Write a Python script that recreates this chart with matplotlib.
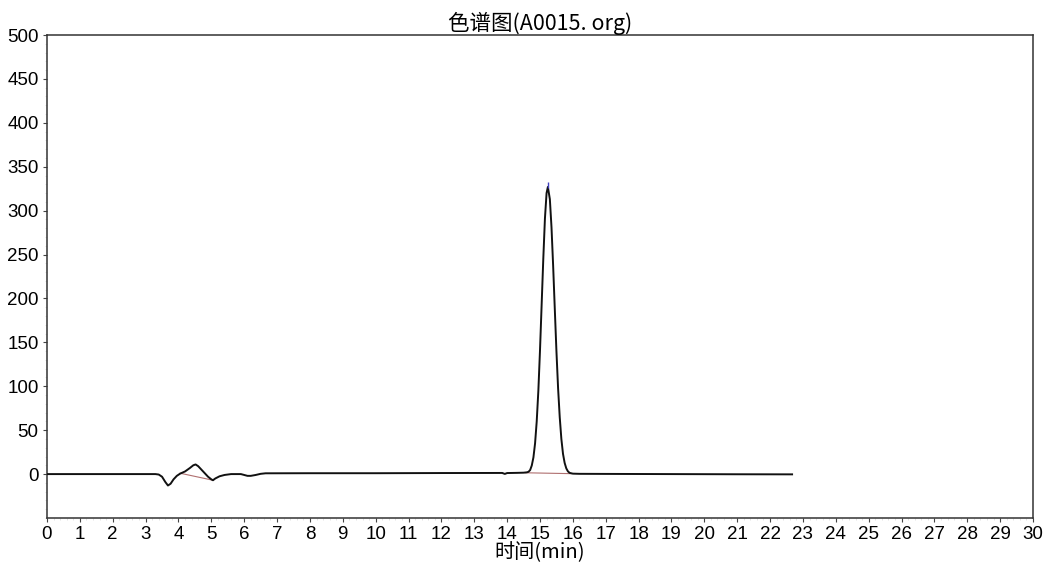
import matplotlib.pyplot as plt
from matplotlib.ticker import MultipleLocator

# chromatogram trace (min, signal)
times = [0.0, 3.3, 3.4, 3.5, 3.6, 3.68, 3.76, 3.85, 3.95, 4.05, 4.2, 4.35, 4.45, 4.52,
         4.6, 4.7, 4.8, 4.9, 5.0, 5.05, 5.12, 5.25, 5.4, 5.6, 5.9, 6.0, 6.1, 6.2,
         6.35, 6.5, 6.65, 8.0, 10.0, 12.0, 13.85, 13.93, 14.0, 14.3, 14.5,
         14.6, 14.65, 14.7, 14.75, 14.8, 14.85, 14.9, 14.95, 15.0, 15.05, 15.1,
         15.15, 15.2, 15.24, 15.3, 15.35, 15.4, 15.45, 15.5, 15.55, 15.6, 15.65,
         15.7, 15.75, 15.8, 15.85, 15.9, 16.0, 16.2, 17.0, 19.0, 21.0, 22.67]
signal = [0.0, 0.0, -0.5, -3.0, -9.0, -13.0, -11.0, -6.0, -2.0, 0.5, 3.0, 7.0, 10.0, 11.0,
          9.0, 5.0, 1.0, -3.0, -6.0, -7.0, -5.0, -2.5, -1.0, 0.0, 0.0, -1.0, -2.0, -2.0,
          -1.0, 0.3, 0.9, 1.0, 1.0, 1.2, 1.3, 0.2, 1.2, 1.4, 1.6,
          2.0, 2.6, 4.6, 9.8, 19.0, 35.0, 60.0, 95.0, 141.0, 193.0, 245.0,
          291.0, 320.0, 327.0, 313.0, 281.0, 237.0, 188.0, 140.0, 98.0, 65.0, 40.0,
          23.0, 12.7, 6.5, 3.1, 1.4, 0.5, 0.3, 0.2, 0.0, -0.2, -0.3]

# integration baselines drawn under the peaks
base_t = [[4.05, 5.05], [14.55, 15.95]]
base_y = [[1.0, -7.0], [1.5, 0.5]]

apex_t = 15.24
apex_y = 327.0

xticks = list(range(0, 31))
yticks = list(range(0, 501, 50))


def main():
    fig = plt.figure(figsize=(10.47, 5.62), dpi=100)
    ax = fig.add_axes([47 / 1047, 1 - 518 / 562, (1033 - 47) / 1047, (518 - 35) / 562])

    ax.plot(times, signal, color='#111111', lw=1.4, zorder=3)
    for bt, by in zip(base_t, base_y):
        ax.plot(bt, by, color='#b07070', lw=0.8, zorder=2)
    ax.plot([apex_t], [apex_y + 2], marker='|', color='#4040c0', ms=4, zorder=4)

    ax.set_xlim(0, 30)
    ax.set_ylim(-50, 500)
    ax.set_xticks(xticks)
    ax.set_yticks(yticks)
    ax.xaxis.set_minor_locator(MultipleLocator(0.2))
    ax.yaxis.set_minor_locator(MultipleLocator(10))
    ax.tick_params(which='major', length=3, width=0.8, direction='out', pad=3,
                   color='#444444')
    ax.tick_params(which='minor', length=1.5, width=0.5, color='#d8d8d8')

    for lab in ax.get_xticklabels() + ax.get_yticklabels():
        lab.set_fontfamily('Liberation Sans')
        lab.set_fontsize(13.5)

    for s in ax.spines.values():
        s.set_linewidth(1.1)
        s.set_color('#333333')

    cjk = ['Noto Sans CJK SC', 'DejaVu Sans']
    ax.set_title('色谱图(A0015. org)', family=cjk, fontsize=15.5, pad=3)
    ax.set_xlabel('时间(min)', family=cjk, fontsize=14.5, va='center')
    ax.xaxis.set_label_coords(0.5, -0.072)

    fig.savefig('out.png', dpi=100)


if __name__ == '__main__':
    main()
